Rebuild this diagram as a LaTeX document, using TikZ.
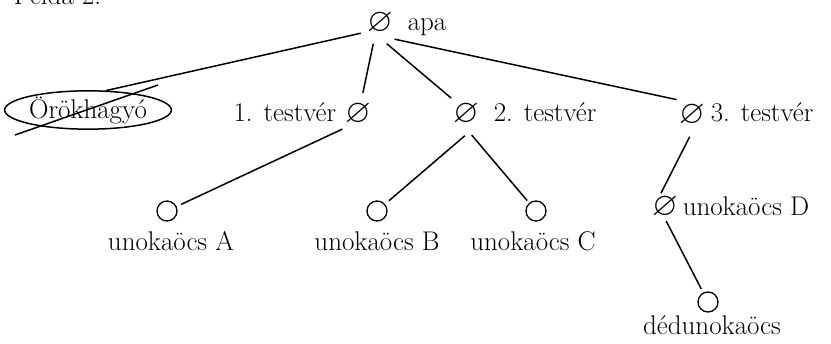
\documentclass[tikz,border=0pt]{standalone}
\usepackage{amssymb}
\usetikzlibrary{shapes.geometric}
\begin{document}
\begin{tikzpicture}[x=1pt,y=1pt, line width=1.5pt,
  lbl/.style={font=\fontsize{27}{30}\selectfont, inner sep=0},
  nul/.style={circle, minimum size=42pt, inner sep=0, font=\fontsize{33}{36}\selectfont},
  leaf/.style={circle, draw, minimum size=20pt, inner sep=0, line width=1.3pt}]
\useasboundingbox (0,0) rectangle (831,-344);
\node[lbl, anchor=base west] (title) at (13,-5) {Példa 2.};
\node[nul] (apa) at (380,-23) {$\varnothing$};
\node[lbl, anchor=base west] (apal) at (407,-31) {apa};
\node[ellipse, draw, minimum width=156pt, minimum height=36pt, lbl] (ork) at (88,-110) {Örökhagyó};
\coordinate (s1) at (15,-135);
\coordinate (s2) at (158,-85);
\node[nul] (t1) at (358,-114) {$\varnothing$};
\node[lbl, anchor=base east] (t1l) at (337,-122) {1. testvér};
\node[nul] (t2) at (466,-114) {$\varnothing$};
\node[lbl, anchor=base west] (t2l) at (493,-122) {2. testvér};
\node[nul] (t3) at (692,-115) {$\varnothing$};
\node[lbl, anchor=base west] (t3l) at (710,-122) {3. testvér};
\node[leaf] (A) at (167,-211) {};
\node[lbl, anchor=base] (Al) at (171,-251) {unokaöcs A};
\node[leaf] (B) at (377,-211) {};
\node[lbl, anchor=base] (Bl) at (377,-251) {unokaöcs B};
\node[leaf] (C) at (536,-211) {};
\node[lbl, anchor=base] (Cl) at (533,-251) {unokaöcs C};
\node[nul] (D) at (665,-207) {$\varnothing$};
\node[lbl, anchor=base west] (Dl) at (682,-216) {unokaöcs D};
\node[leaf] (E) at (708,-302) {};
\node[lbl, anchor=base] (El) at (712,-335) {dédunokaöcs};
\draw (apa.208) -- (ork.47);
\draw (s1) -- (s2);
\draw (apa.252) -- (t1.77);
\draw (apa.288) -- (t2.133);
\draw (apa.312) -- (t3.135);
\draw[shorten >=5pt] (t1.224) -- (A);
\draw[shorten >=5pt] (t2.267) -- (B);
\draw[shorten >=3pt] (t2.285) -- (C);
\draw[shorten >=-9pt] (t3.264) -- (D.90);
\draw[shorten <=-8pt, shorten >=4pt] (D.-77) -- (E);
\end{tikzpicture}
\end{document}
